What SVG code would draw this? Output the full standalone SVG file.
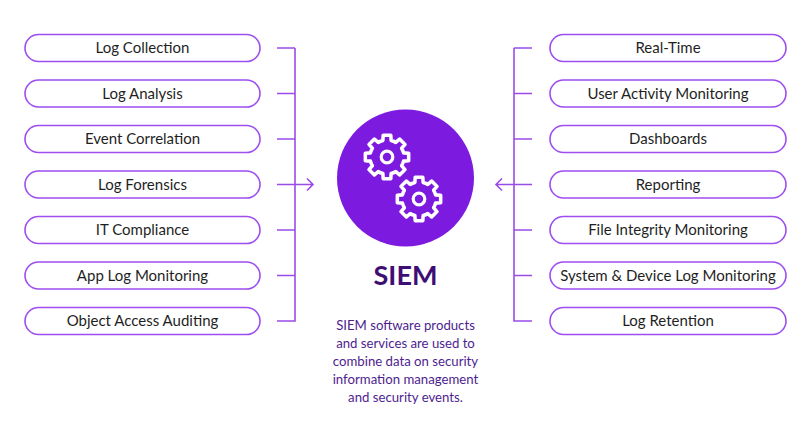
<svg xmlns="http://www.w3.org/2000/svg" width="800" height="432" viewBox="0 0 800 432">
<style>
.box{fill:#fff;stroke:#9d4df0;stroke-width:1.6}
.lbl{font-family:Lato,"Liberation Sans",sans-serif;font-size:15px;fill:#1f1f1f;text-anchor:middle}
.ln{fill:none;stroke:#9a4ce8;stroke-width:1.6;stroke-linejoin:miter}
.gear{fill:none;stroke:#fff;stroke-width:3.2;stroke-linejoin:round}
.desc{font-family:Lato,"Liberation Sans",sans-serif;font-size:13.2px;fill:#4e1e8f;text-anchor:middle}
</style>
<defs>
<path id="g" d="M15.04,-3.75 L19.7,-3.47 L19.7,3.47 L15.04,3.75 A15.5,15.5 0 0 1 13.29,7.98 L16.38,11.47 L11.47,16.38 L7.98,13.29 A15.5,15.5 0 0 1 3.75,15.04 L3.47,19.7 L-3.47,19.7 L-3.75,15.04 A15.5,15.5 0 0 1 -7.98,13.29 L-11.47,16.38 L-16.38,11.47 L-13.29,7.98 A15.5,15.5 0 0 1 -15.04,3.75 L-19.7,3.47 L-19.7,-3.47 L-15.04,-3.75 A15.5,15.5 0 0 1 -13.29,-7.98 L-16.38,-11.47 L-11.47,-16.38 L-7.98,-13.29 A15.5,15.5 0 0 1 -3.75,-15.04 L-3.47,-19.7 L3.47,-19.7 L3.75,-15.04 A15.5,15.5 0 0 1 7.98,-13.29 L11.47,-16.38 L16.38,-11.47 L13.29,-7.98 A15.5,15.5 0 0 1 15.04,-3.75 Z"/>
</defs>
<rect width="800" height="432" fill="#fff"/>

<g id="connectors">
<path class="ln" d="M277,48 H295 M277,93.5 H295 M277,139 H295 M277,230 H295 M277,275.5 H295 M277,321 H295 V48 M277,184.5 H313 M307,178.5 L313,184.5 L307,190.5"/>
<path class="ln" d="M532,48 H514 M532,93.5 H514 M532,139 H514 M532,230 H514 M532,275.5 H514 M532,321 H514 V48 M532,184.5 H496 M502,178.5 L496,184.5 L502,190.5"/>
</g>

<g id="n-log-collection"><rect class="box" x="25" y="34.5" width="235" height="27" rx="13.5"/><text class="lbl" x="142.5" y="53.3">Log Collection</text></g>
<g id="n-log-analysis"><rect class="box" x="25" y="80" width="235" height="27" rx="13.5"/><text class="lbl" x="142.5" y="98.8">Log Analysis</text></g>
<g id="n-event-correlation"><rect class="box" x="25" y="125.5" width="235" height="27" rx="13.5"/><text class="lbl" x="142.5" y="144.3">Event Correlation</text></g>
<g id="n-log-forensics"><rect class="box" x="25" y="171" width="235" height="27" rx="13.5"/><text class="lbl" x="142.5" y="189.8">Log Forensics</text></g>
<g id="n-it-compliance"><rect class="box" x="25" y="216.5" width="235" height="27" rx="13.5"/><text class="lbl" x="142.5" y="235.3">IT Compliance</text></g>
<g id="n-app-log-monitoring"><rect class="box" x="25" y="262" width="235" height="27" rx="13.5"/><text class="lbl" x="142.5" y="280.8">App Log Monitoring</text></g>
<g id="n-object-access-auditing"><rect class="box" x="25" y="307.5" width="235" height="27" rx="13.5"/><text class="lbl" x="142.5" y="326.3">Object Access Auditing</text></g>

<g id="n-real-time"><rect class="box" x="550" y="34.5" width="236" height="27" rx="13.5"/><text class="lbl" x="668" y="53.3">Real-Time</text></g>
<g id="n-user-activity"><rect class="box" x="550" y="80" width="236" height="27" rx="13.5"/><text class="lbl" x="668" y="98.8">User Activity Monitoring</text></g>
<g id="n-dashboards"><rect class="box" x="550" y="125.5" width="236" height="27" rx="13.5"/><text class="lbl" x="668" y="144.3">Dashboards</text></g>
<g id="n-reporting"><rect class="box" x="550" y="171" width="236" height="27" rx="13.5"/><text class="lbl" x="668" y="189.8">Reporting</text></g>
<g id="n-file-integrity"><rect class="box" x="550" y="216.5" width="236" height="27" rx="13.5"/><text class="lbl" x="668" y="235.3">File Integrity Monitoring</text></g>
<g id="n-system-device"><rect class="box" x="550" y="262" width="236" height="27" rx="13.5"/><text class="lbl" x="668" y="280.8">System &amp; Device Log Monitoring</text></g>
<g id="n-log-retention"><rect class="box" x="550" y="307.5" width="236" height="27" rx="13.5"/><text class="lbl" x="668" y="326.3">Log Retention</text></g>

<g id="n-siem">
<circle cx="405.5" cy="178" r="68.5" fill="#7d1adf"/>
<use href="#g" class="gear" transform="translate(387,157) scale(1.1)"/>
<circle cx="387" cy="157" r="5.8" class="gear" stroke-width="3.5"/>
<use href="#g" class="gear" transform="translate(419,199) scale(1.1)"/>
<circle cx="419" cy="199" r="5.8" class="gear" stroke-width="3.5"/>
<text x="405.5" y="285" font-family="Lato,'Liberation Sans',sans-serif" font-weight="bold" font-size="27" fill="#3e0e74" text-anchor="middle">SIEM</text>
<text class="desc" x="405.5" y="329.5">SIEM software products</text>
<text class="desc" x="405.5" y="347.5">and services are used to</text>
<text class="desc" x="405.5" y="365.5">combine data on security</text>
<text class="desc" x="405.5" y="383.5">information management</text>
<text class="desc" x="405.5" y="401.5">and security events.</text>
</g>
</svg>
